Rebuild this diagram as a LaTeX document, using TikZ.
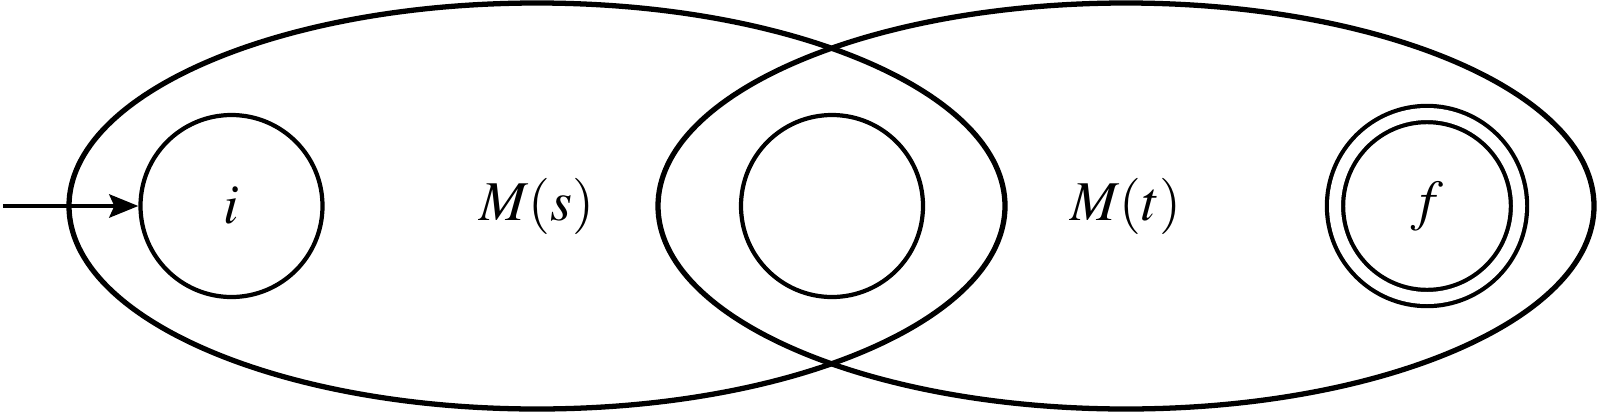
\documentclass[tikz,border=0pt]{standalone}
\usepackage{mathptmx}
\usetikzlibrary{shapes.geometric,arrows.meta}

\begin{document}
\begin{tikzpicture}[
      >={Stealth[length=2.9mm,width=2.3mm,inset=0.5mm]},
      mach/.style={draw,ellipse,line width=1.5pt,minimum width=9.36cm,minimum height=4.06cm,inner sep=0pt,font=\fontsize{16}{19}\selectfont},
      st/.style={draw,circle,line width=1.2pt,minimum size=1.82cm,inner sep=0pt,font=\fontsize{16}{19}\selectfont},
      acc/.style={st,minimum size=1.84cm,double,double distance=0.12cm},
    ]
    \useasboundingbox (0,0) rectangle (15.99,4.12);
    \node[mach] (ms) at (5.37,2.06) {$M(s)$};
  \node[mach] (mt) at (11.26,2.06) {$M(t)$};
  \node[st] (i) at (2.315,2.06) {$i$};
  \node[st] (mid) at (8.32,2.06) {};
  \node[acc] (f) at (14.27,2.06) {$f$};
  \coordinate (start) at (0.03,2.06);
  \draw[->,line width=1.4pt] (start) -- (i);
\end{tikzpicture}
\end{document}
